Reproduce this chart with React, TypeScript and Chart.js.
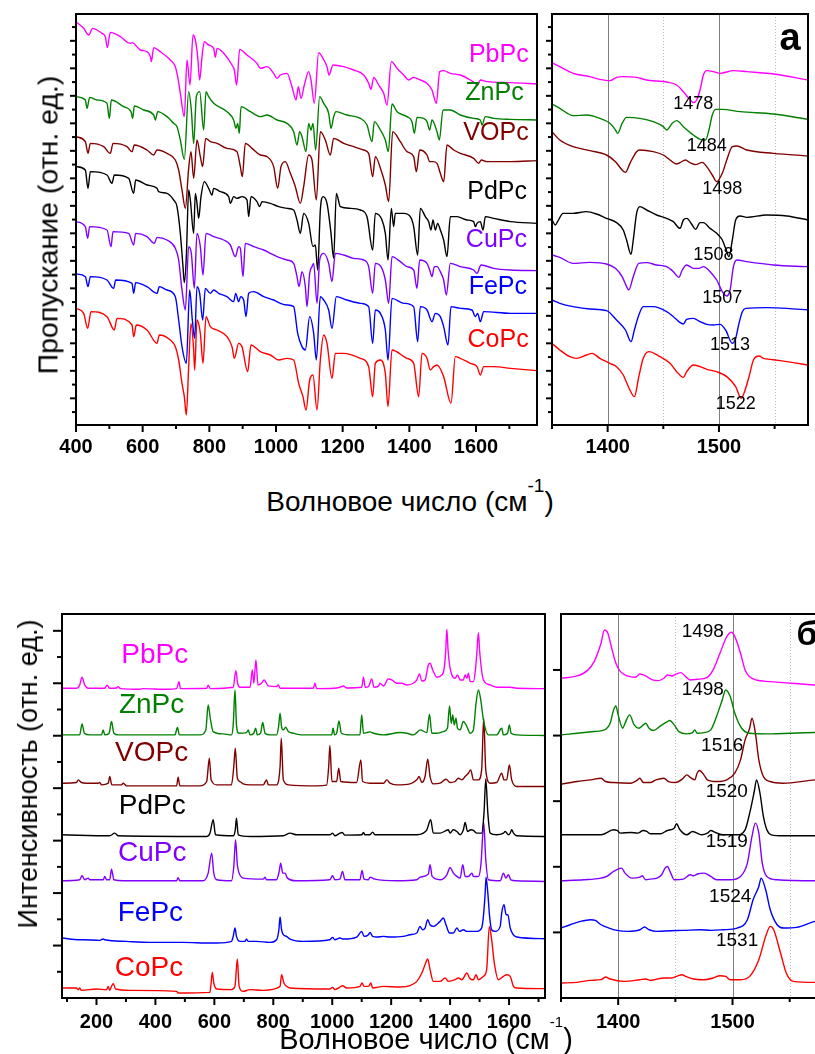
import React, { useEffect, useRef } from "react";
import { Chart, registerables } from "chart.js";

Chart.register(...registerables);

const FONT = "'Liberation Sans', Arial, Helvetica, sans-serif";

const SERIES = ["PbPc", "ZnPc", "VOPc", "PdPc", "CuPc", "FePc", "CoPc"];
const COLORS = ["#ff00ff", "#008000", "#800000", "#000000", "#8000ff", "#0000ff", "#ff0000"];

// tick labels
const irTicks = [400, 600, 800, 1000, 1200, 1400, 1600];
const irZoomTicks = [1400, 1500];
const ramanTicks = [200, 400, 600, 800, 1000, 1200, 1400, 1600];
const ramanZoomTicks = [1400, 1500];

// peak annotations (wavenumbers, cm-1)
const irZoomPeaks = ["1478", "1484", "1498", "1508", "1507", "1513", "1522"];
const ramanZoomPeaks = ["1498", "1498", "1516", "1520", "1519", "1524", "1531"];

// ---------- IR spectra, 400-1780 cm-1 (wavenumber, transmittance a.u.) ----------
const irWidePb = [400,1210, 423,1190, 438,1170, 450,1190, 478,1175, 488,1165, 494,1132, 503,1178, 533,1165, 563,1145, 568,1147, 593,1125, 613,1120, 623,1105, 626,1090, 633,1132, 653,1120, 683,1095, 698,1075, 705,1045, 713,995, 725,925, 733,1095, 742,1020, 751,1170, 758,1155, 765,1105, 771,1035, 778,1105, 785,1150, 798,1140, 813,1130, 818,1103, 823,1130, 843,1115, 868,1080, 875,1065, 882,1020, 891,1127, 913,1110, 943,1085, 953,1070, 973,1075, 993,1055, 1003,1040, 1013,1050, 1033,1055, 1048,1015, 1060,975, 1067,1015, 1075,980, 1085,1020, 1098,1060, 1105,1035, 1115,965, 1128,1117, 1138,1105, 1153,1075, 1159,1050, 1171,1080, 1203,1075, 1233,1065, 1263,1050, 1278,1025, 1285,1007, 1293,1043, 1308,1020, 1323,995, 1333,960, 1346,1090, 1363,1070, 1383,1050, 1398,1035, 1413,1043, 1433,1035, 1453,1025, 1468,1005, 1481,965, 1491,1060, 1503,1063, 1523,1055, 1553,1050, 1583,1035, 1598,1025, 1605,1020, 1613,1035, 1633,1030, 1703,1027, 1783,1023];
const irWideZn = [400,985, 428,975, 433,950, 441,983, 463,975, 493,965, 500,920, 506,975, 543,955, 565,940, 570,920, 575,957, 603,945, 633,930, 638,915, 645,940, 673,925, 693,905, 703,895, 713,855, 725,797, 738,1000, 746,945, 753,845, 761,985, 771,1000, 783,885, 790,1000, 798,985, 813,965, 853,940, 873,915, 880,890, 885,905, 890,875, 895,955, 923,940, 953,925, 973,930, 1003,915, 1033,905, 1053,880, 1063,840, 1071,880, 1078,865, 1090,820, 1098,905, 1105,885, 1111,905, 1119,825, 1131,985, 1143,965, 1158,935, 1165,890, 1173,925, 1180,940, 1213,930, 1253,920, 1273,900, 1288,850, 1295,910, 1313,885, 1328,855, 1337,820, 1348,963, 1363,940, 1393,925, 1408,910, 1415,875, 1423,923, 1443,920, 1453,910, 1461,885, 1468,915, 1483,880, 1490,855, 1501,945, 1523,945, 1553,930, 1593,920, 1613,915, 1618,900, 1628,925, 1653,920, 1703,917, 1783,915];
const irWideVO = [400,865, 428,850, 436,815, 443,845, 483,835, 503,815, 511,845, 553,835, 568,820, 575,840, 613,825, 633,810, 643,825, 673,815, 698,795, 708,765, 718,705, 728,650, 738,770, 745,820, 753,740, 763,855, 773,805, 780,775, 789,860, 803,850, 823,845, 853,830, 883,820, 893,775, 899,745, 908,845, 928,830, 953,810, 973,805, 993,775, 1005,710, 1015,775, 1028,790, 1043,755, 1058,715, 1073,665, 1083,715, 1098,810, 1108,795, 1121,675, 1133,880, 1148,855, 1163,810, 1173,860, 1203,845, 1233,835, 1263,825, 1278,815, 1290,745, 1298,805, 1315,765, 1328,720, 1338,670, 1350,880, 1373,850, 1393,820, 1413,805, 1421,760, 1431,825, 1453,810, 1461,790, 1471,790, 1483,785, 1493,755, 1503,730, 1513,840, 1533,825, 1553,815, 1593,800, 1608,785, 1616,795, 1633,790, 1703,790, 1783,793];
const irWidePd = [400,775, 428,765, 436,710, 443,760, 493,750, 508,725, 515,750, 558,740, 573,695, 579,735, 613,720, 643,710, 648,700, 673,695, 693,675, 703,655, 713,575, 721,475, 725,427, 731,505, 738,705, 743,675, 753,575, 758,695, 763,665, 768,620, 775,685, 785,730, 798,710, 808,690, 813,710, 833,700, 858,685, 863,665, 873,685, 883,680, 898,685, 913,675, 918,625, 925,685, 943,670, 951,655, 958,670, 983,665, 1008,655, 1033,650, 1053,645, 1063,615, 1073,575, 1083,635, 1098,605, 1111,535, 1118,540, 1125,465, 1133,645, 1141,685, 1153,665, 1165,575, 1173,500, 1181,695, 1193,655, 1223,650, 1253,645, 1273,625, 1290,525, 1298,635, 1318,615, 1328,575, 1336,495, 1346,650, 1353,595, 1358,635, 1383,635, 1403,625, 1413,595, 1425,510, 1433,650, 1448,625, 1458,610, 1465,585, 1471,615, 1478,585, 1485,605, 1493,585, 1503,555, 1513,505, 1523,625, 1543,625, 1573,615, 1593,610, 1598,595, 1603,605, 1613,610, 1621,585, 1628,625, 1653,620, 1703,610, 1783,605];
const irWideCu = [400,610, 428,595, 435,560, 441,595, 493,585, 505,535, 511,580, 558,575, 573,540, 579,575, 613,565, 635,545, 643,563, 673,555, 698,530, 708,495, 718,405, 728,345, 738,535, 746,515, 755,410, 763,575, 773,535, 781,450, 790,575, 813,565, 843,555, 863,540, 878,505, 888,535, 893,530, 901,445, 908,545, 933,535, 963,525, 983,515, 1003,505, 1033,495, 1053,485, 1063,445, 1069,415, 1078,460, 1088,415, 1093,355, 1101,455, 1108,475, 1113,485, 1123,365, 1131,495, 1143,515, 1158,485, 1168,430, 1178,515, 1203,510, 1233,500, 1263,495, 1278,475, 1290,395, 1298,485, 1315,475, 1328,435, 1338,365, 1348,505, 1373,490, 1393,475, 1413,465, 1423,410, 1431,495, 1453,485, 1461,465, 1468,445, 1475,475, 1483,475, 1493,460, 1503,435, 1511,390, 1523,485, 1553,475, 1593,465, 1603,455, 1615,480, 1653,470, 1703,465, 1783,463];
const irWideFe = [400,453, 428,445, 436,415, 443,445, 493,435, 513,410, 519,435, 568,425, 573,395, 579,427, 613,415, 643,395, 650,415, 673,405, 698,385, 708,315, 718,235, 731,185, 741,405, 749,315, 756,260, 763,415, 771,395, 780,315, 788,410, 803,395, 813,405, 828,395, 853,385, 873,370, 879,395, 888,370, 894,385, 903,375, 910,325, 918,395, 933,400, 963,385, 993,375, 1013,365, 1033,360, 1053,355, 1065,275, 1078,235, 1088,225, 1101,325, 1113,275, 1121,195, 1133,385, 1143,375, 1158,345, 1168,290, 1181,385, 1213,375, 1253,365, 1278,355, 1290,245, 1298,345, 1313,335, 1328,285, 1336,195, 1348,380, 1383,365, 1413,355, 1425,250, 1433,355, 1453,345, 1468,310, 1478,335, 1493,325, 1503,295, 1516,240, 1525,355, 1553,350, 1588,345, 1598,325, 1605,335, 1613,310, 1623,340, 1703,335, 1783,335];
const irWideCo = [400,350, 423,335, 435,290, 445,340, 493,325, 515,285, 523,320, 568,300, 573,265, 581,300, 613,285, 643,245, 650,270, 683,255, 698,235, 708,195, 718,125, 725,85, 731,30, 738,175, 745,305, 753,225, 756,165, 763,315, 773,275, 781,185, 790,325, 803,295, 823,285, 853,265, 868,235, 875,200, 888,245, 898,235, 915,160, 925,240, 953,220, 983,210, 1008,195, 1033,200, 1053,195, 1068,125, 1081,85, 1090,45, 1101,135, 1111,150, 1123,45, 1133,195, 1143,270, 1153,245, 1168,140, 1178,215, 1203,215, 1253,200, 1278,175, 1290,85, 1298,185, 1313,195, 1328,155, 1336,55, 1348,225, 1393,200, 1413,185, 1428,85, 1438,215, 1453,200, 1463,165, 1473,175, 1483,180, 1503,145, 1525,65, 1538,205, 1553,200, 1583,185, 1603,175, 1613,150, 1623,175, 1653,175, 1703,170, 1783,163];

// ---------- IR spectra, 1350-1580 cm-1 ----------
const irZoomPb = [1350,1087, 1357,1075, 1369,1055, 1384,1045, 1393,1037, 1402,1033, 1408,1043, 1414,1045, 1426,1043, 1435,1035, 1444,1032, 1453,1029, 1462,1020, 1468,1000, 1473,980, 1477,967, 1480,975, 1483,1005, 1486,1050, 1489,1063, 1495,1060, 1501,1055, 1513,1063, 1525,1060, 1549,1053, 1580,1035];
const irZoomZn = [1350,963, 1357,950, 1369,928, 1381,930, 1393,920, 1402,905, 1407,885, 1409,875, 1413,905, 1417,923, 1429,920, 1441,910, 1450,895, 1453,885, 1458,905, 1462,913, 1468,895, 1477,870, 1483,857, 1488,855, 1491,885, 1494,930, 1497,947, 1503,947, 1519,940, 1549,933, 1580,917];
const irZoomVO = [1350,880, 1357,855, 1369,835, 1384,823, 1399,810, 1407,790, 1413,765, 1416,758, 1420,785, 1426,820, 1429,825, 1441,820, 1450,810, 1456,795, 1462,783, 1465,787, 1470,795, 1474,787, 1479,781, 1485,788, 1489,775, 1494,750, 1498,730, 1503,755, 1507,795, 1512,835, 1516,837, 1525,825, 1549,815, 1580,807];
const irZoomPd = [1350,615, 1353,600, 1355,610, 1360,635, 1369,635, 1381,640, 1390,633, 1399,620, 1408,607, 1414,585, 1417,555, 1421,512, 1423,555, 1426,635, 1429,655, 1435,645, 1444,630, 1453,620, 1459,610, 1465,590, 1468,615, 1471,620, 1476,600, 1479,587, 1483,607, 1486,607, 1492,590, 1498,575, 1503,555, 1506,530, 1509,505, 1512,555, 1515,615, 1519,627, 1525,623, 1543,630, 1561,627, 1580,615];
const irZoomCu = [1350,510, 1357,503, 1369,485, 1384,488, 1399,483, 1407,470, 1413,445, 1417,415, 1419,405, 1423,445, 1428,485, 1435,487, 1444,480, 1453,475, 1459,460, 1464,443, 1467,465, 1471,480, 1477,470, 1482,470, 1486,475, 1492,460, 1498,435, 1503,400, 1507,387, 1510,405, 1513,475, 1516,495, 1525,490, 1549,480, 1580,475];
const irZoomFe = [1350,375, 1357,365, 1369,355, 1384,348, 1399,343, 1408,315, 1416,285, 1421,250, 1424,285, 1428,330, 1432,355, 1441,355, 1453,340, 1459,325, 1464,310, 1468,303, 1471,317, 1477,320, 1483,310, 1489,302, 1495,300, 1501,302, 1506,285, 1512,245, 1515,260, 1518,305, 1521,340, 1524,350, 1543,352, 1561,350, 1580,345];
const irZoomCo = [1350,245, 1357,225, 1366,205, 1372,200, 1381,210, 1386,215, 1393,200, 1402,185, 1408,175, 1414,150, 1420,105, 1424,85, 1428,145, 1432,200, 1437,220, 1447,205, 1456,185, 1462,160, 1468,143, 1471,160, 1477,180, 1483,175, 1489,167, 1498,160, 1507,145, 1515,115, 1520,80, 1523,100, 1527,145, 1531,195, 1536,207, 1540,200, 1546,197, 1555,193, 1567,187, 1580,180];

// ---------- Raman spectra, 83-1722 cm-1 (wavenumber, intensity a.u.) ----------
const ramanPb = [83,930, 132,930, 143,940, 151,963, 160,940, 172,930, 228,930, 236,939, 245,930, 268,931, 274,935, 281,929, 347,927, 358,929, 438,927, 472,929, 480,950, 485,929, 574,930, 579,939, 587,929, 664,933, 673,983, 679,945, 687,933, 721,933, 729,985, 734,945, 741,1015, 748,940, 760,945, 769,955, 783,937, 811,935, 817,940, 823,930, 936,930, 941,945, 947,929, 1004,930, 1026,933, 1038,937, 1049,931, 1100,933, 1106,963, 1112,933, 1123,935, 1134,958, 1142,933, 1157,937, 1162,945, 1174,937, 1190,958, 1202,955, 1219,945, 1236,945, 1253,940, 1275,945, 1287,955, 1296,973, 1304,952, 1315,955, 1326,1000, 1332,1005, 1341,985, 1355,963, 1372,970, 1380,990, 1385,1040, 1389,1107, 1393,1045, 1399,995, 1406,970, 1417,960, 1425,970, 1434,955, 1445,955, 1451,970, 1457,960, 1462,975, 1468,950, 1479,950, 1486,985, 1491,1040, 1496,1097, 1500,1045, 1506,990, 1513,955, 1536,940, 1558,933, 1604,933, 1626,930, 1722,929];
const ramanZn = [83,790, 143,790, 151,823, 159,795, 177,790, 217,790, 223,805, 228,790, 243,795, 251,830, 259,795, 274,790, 347,790, 466,790, 475,812, 481,790, 551,790, 571,805, 579,880, 587,835, 596,800, 630,793, 658,790, 664,820, 670,925, 675,820, 683,795, 709,797, 715,805, 721,790, 734,795, 740,810, 746,790, 757,795, 764,827, 772,795, 789,790, 811,790, 818,815, 823,855, 828,815, 834,805, 842,813, 851,800, 868,795, 902,790, 947,790, 998,790, 1003,810, 1008,790, 1015,795, 1023,832, 1031,795, 1060,790, 1094,790, 1100,850, 1106,795, 1117,797, 1128,799, 1140,795, 1174,790, 1230,797, 1253,795, 1275,790, 1287,797, 1298,805, 1321,797, 1330,852, 1338,795, 1355,795, 1377,800, 1391,810, 1398,877, 1404,825, 1409,850, 1414,820, 1420,840, 1425,810, 1434,805, 1445,830, 1457,815, 1468,795, 1479,805, 1488,885, 1496,925, 1504,895, 1513,835, 1530,790, 1558,790, 1575,810, 1581,790, 1595,795, 1601,820, 1607,795, 1626,790, 1722,788];
const ramanVO = [83,645, 132,647, 138,655, 149,647, 166,645, 206,645, 211,647, 217,640, 240,645, 245,665, 252,640, 285,640, 291,645, 302,637, 472,637, 477,663, 483,637, 551,637, 574,650, 583,720, 589,655, 608,640, 658,640, 666,695, 671,750, 678,660, 687,650, 698,643, 721,640, 766,640, 777,655, 783,640, 811,640, 823,695, 827,780, 834,655, 851,640, 947,637, 981,639, 988,695, 992,758, 999,650, 1015,650, 1022,690, 1029,650, 1083,647, 1097,715, 1103,650, 1128,645, 1174,645, 1185,655, 1196,645, 1219,640, 1264,643, 1287,655, 1295,665, 1304,647, 1315,665, 1324,717, 1332,665, 1343,643, 1366,645, 1386,657, 1400,647, 1417,650, 1428,660, 1440,655, 1451,665, 1462,675, 1470,685, 1479,655, 1496,655, 1507,685, 1514,840, 1521,685, 1536,645, 1558,647, 1575,675, 1583,655, 1592,655, 1601,700, 1609,655, 1626,635, 1722,635];
const ramanPd = [83,490, 245,487, 262,495, 274,487, 574,485, 585,495, 596,535, 604,490, 664,487, 671,505, 675,540, 681,490, 721,485, 834,487, 857,495, 879,490, 992,490, 1001,495, 1009,487, 1026,495, 1034,497, 1043,489, 1100,490, 1106,497, 1111,490, 1128,490, 1137,498, 1145,490, 1174,490, 1287,490, 1309,495, 1321,505, 1334,535, 1343,495, 1366,495, 1394,505, 1400,495, 1411,505, 1423,500, 1434,490, 1445,505, 1451,527, 1459,500, 1470,505, 1479,503, 1491,495, 1507,495, 1515,555, 1521,658, 1528,555, 1536,495, 1558,490, 1581,495, 1587,500, 1598,490, 1604,495, 1609,505, 1615,495, 1626,487, 1722,485];
const ramanCu = [83,352, 143,355, 151,367, 160,355, 172,360, 177,355, 223,355, 228,365, 234,355, 245,355, 251,387, 259,355, 291,352, 472,352, 477,361, 483,352, 562,352, 579,375, 591,435, 598,375, 608,355, 658,352, 666,395, 672,475, 678,400, 684,375, 698,360, 766,357, 772,363, 777,355, 811,355, 820,380, 825,405, 832,375, 840,375, 848,360, 879,352, 992,355, 1001,367, 1009,355, 1026,357, 1035,380, 1043,355, 1094,355, 1101,383, 1108,357, 1123,355, 1128,363, 1137,360, 1145,357, 1219,352, 1287,355, 1298,363, 1326,372, 1332,400, 1339,365, 1366,355, 1389,370, 1400,392, 1411,375, 1423,365, 1434,360, 1443,400, 1451,365, 1462,365, 1474,375, 1479,365, 1496,365, 1505,405, 1511,495, 1514,527, 1521,415, 1530,355, 1570,352, 1581,375, 1589,360, 1598,370, 1606,355, 1626,352, 1722,350];
const ramanFe = [83,180, 143,175, 155,175, 211,173, 223,177, 228,175, 302,170, 381,167, 494,167, 585,165, 608,165, 658,170, 664,185, 670,210, 675,185, 687,170, 704,170, 709,177, 715,170, 743,170, 789,167, 811,175, 819,205, 823,243, 828,205, 834,190, 845,185, 857,177, 902,170, 992,175, 1001,182, 1009,175, 1026,180, 1038,177, 1083,183, 1100,200, 1108,185, 1123,190, 1128,197, 1137,185, 1151,183, 1174,185, 1196,183, 1241,185, 1264,190, 1287,195, 1298,215, 1306,205, 1315,210, 1324,235, 1332,220, 1343,215, 1366,230, 1377,240, 1386,220, 1398,195, 1411,195, 1423,210, 1432,200, 1445,205, 1457,200, 1468,200, 1491,200, 1507,210, 1513,245, 1519,315, 1522,363, 1528,315, 1534,245, 1541,205, 1553,200, 1570,215, 1575,255, 1583,280, 1590,250, 1596,250, 1604,210, 1626,183, 1722,178];
const ramanCo = [83,30, 132,30, 138,25, 143,30, 149,23, 200,27, 234,25, 240,35, 245,23, 251,35, 257,43, 265,27, 313,23, 472,20, 477,15, 585,17, 589,45, 593,77, 598,45, 608,27, 658,25, 670,35, 678,117, 684,35, 698,20, 721,25, 766,23, 823,35, 828,70, 836,45, 845,35, 857,30, 992,27, 1001,32, 1009,25, 1026,33, 1035,37, 1049,30, 1094,35, 1101,45, 1108,35, 1123,35, 1131,45, 1137,30, 1174,35, 1230,33, 1264,37, 1287,50, 1304,75, 1315,100, 1324,117, 1332,85, 1343,50, 1366,50, 1383,60, 1394,50, 1417,55, 1428,60, 1440,55, 1457,75, 1466,60, 1474,55, 1479,55, 1488,70, 1496,55, 1513,65, 1524,85, 1533,215, 1541,175, 1550,105, 1564,55, 1581,65, 1592,70, 1604,65, 1615,35, 1626,30, 1722,28];

// ---------- Raman spectra, 1350-1580 cm-1 ----------
const ramanZoomPb = [1350,960, 1364,967, 1373,983, 1379,1010, 1385,1065, 1388,1105, 1391,1095, 1394,1055, 1398,1005, 1402,980, 1408,967, 1415,963, 1419,973, 1424,967, 1430,955, 1435,953, 1440,960, 1443,970, 1447,967, 1451,973, 1455,977, 1459,965, 1463,955, 1469,957, 1478,963, 1483,985, 1489,1035, 1495,1085, 1499,1098, 1502,1085, 1507,1035, 1511,985, 1518,958, 1533,950, 1544,947, 1572,940, 1580,939];
const ramanZoomZn = [1350,790, 1364,795, 1379,800, 1388,805, 1393,825, 1396,865, 1398,877, 1400,850, 1404,810, 1406,825, 1410,850, 1414,820, 1418,810, 1422,820, 1424,825, 1427,810, 1431,803, 1437,817, 1443,830, 1445,833, 1449,820, 1453,800, 1460,793, 1465,797, 1467,805, 1469,795, 1475,797, 1481,805, 1486,845, 1491,895, 1494,925, 1498,905, 1502,855, 1508,810, 1515,795, 1530,793, 1572,797, 1580,797];
const ramanZoomVO = [1350,642, 1364,650, 1376,655, 1385,660, 1389,650, 1396,647, 1411,645, 1417,655, 1419,660, 1422,647, 1428,647, 1433,655, 1440,660, 1444,650, 1450,647, 1456,657, 1460,670, 1464,660, 1467,655, 1469,675, 1471,683, 1475,670, 1478,655, 1486,650, 1495,655, 1502,675, 1507,715, 1511,775, 1515,810, 1517,840, 1520,795, 1523,715, 1527,665, 1533,650, 1544,645, 1572,655, 1580,657];
const ramanZoomPd = [1350,490, 1370,490, 1385,490, 1396,505, 1399,503, 1402,495, 1411,497, 1417,495, 1422,503, 1425,500, 1428,493, 1437,493, 1443,503, 1449,510, 1451,523, 1454,505, 1460,490, 1465,500, 1469,495, 1473,490, 1478,495, 1481,503, 1485,497, 1492,490, 1504,490, 1511,505, 1515,555, 1519,620, 1521,655, 1524,615, 1527,545, 1530,505, 1534,490, 1544,487, 1572,487, 1580,487];
const ramanZoomCu = [1350,352, 1370,355, 1385,360, 1390,365, 1396,380, 1403,390, 1406,375, 1412,360, 1419,363, 1421,367, 1424,355, 1428,357, 1434,360, 1438,370, 1441,390, 1443,395, 1446,375, 1449,355, 1457,357, 1463,370, 1466,367, 1470,373, 1475,375, 1481,365, 1486,355, 1498,355, 1507,365, 1513,405, 1517,485, 1520,525, 1523,495, 1526,405, 1530,365, 1539,355, 1572,352, 1580,352];
const ramanZoomFe = [1350,210, 1358,220, 1367,230, 1376,235, 1380,233, 1385,220, 1392,210, 1399,203, 1408,200, 1419,205, 1423,213, 1427,205, 1434,200, 1446,202, 1457,203, 1472,205, 1481,203, 1492,205, 1504,210, 1513,235, 1518,295, 1523,335, 1525,360, 1529,325, 1533,265, 1539,220, 1545,210, 1556,212, 1572,230, 1580,235];
const ramanZoomCo = [1350,45, 1364,47, 1376,53, 1385,55, 1389,63, 1393,57, 1405,50, 1419,55, 1424,57, 1428,53, 1440,60, 1446,60, 1451,65, 1456,70, 1459,65, 1466,57, 1475,55, 1483,60, 1489,67, 1494,65, 1498,55, 1507,55, 1515,65, 1523,115, 1529,185, 1533,215, 1536,205, 1542,135, 1547,75, 1553,50, 1572,47, 1580,47];

type Lbl = { t: string; x: number; y: number; c: string; s: number; a?: CanvasTextAlign; b?: boolean };
type YT = { start: number; step: number; mStart: number; mStep: number; majLen: number; minLen: number };
type Panel = {
  left: number; top: number; w: number; h: number;
  padTop: number; padRight: number; yW: number; xH: number;
  xMin: number; xMax: number; yMax: number;
  ticks: number[]; labelPad: number; labelSize: number;
  xMinor: number; xMajor: number; xMajLen: number; xMinLen: number;
  yT: YT; solid: number[]; dotted: number[];
  data: number[][]; labels: Lbl[];
};

const toPts = (flat: number[]) => {
  const out: { x: number; y: number }[] = [];
  for (let i = 0; i < flat.length; i += 2) out.push({ x: flat[i], y: flat[i + 1] });
  return out;
};

const irYT: YT = { start: 38.75, step: 41.25, mStart: 80, mStep: 82.5, majLen: 6, minLen: 4 };

const PANELS: Panel[] = [
  {
    left: 0, top: 0, w: 545, h: 470, padTop: 14, padRight: 8, yW: 76, xH: 45,
    xMin: 400, xMax: 1783, yMax: 1233, ticks: irTicks, labelPad: 10, labelSize: 20,
    xMinor: 100, xMajor: 200, xMajLen: 7, xMinLen: 4, yT: irYT, solid: [], dotted: [],
    data: [irWidePb, irWideZn, irWideVO, irWidePd, irWideCu, irWideFe, irWideCo],
    labels: [
      { t: SERIES[0], x: 1758, y: 1110, c: COLORS[0], s: 25, a: "right" },
      { t: SERIES[1], x: 1743, y: 995, c: COLORS[1], s: 25, a: "right" },
      { t: SERIES[2], x: 1758, y: 875, c: COLORS[2], s: 25, a: "right" },
      { t: SERIES[3], x: 1753, y: 700, c: COLORS[3], s: 25, a: "right" },
      { t: SERIES[4], x: 1753, y: 555, c: COLORS[4], s: 25, a: "right" },
      { t: SERIES[5], x: 1753, y: 415, c: COLORS[5], s: 25, a: "right" },
      { t: SERIES[6], x: 1758, y: 255, c: COLORS[6], s: 25, a: "right" },
    ],
  },
  {
    left: 545, top: 0, w: 270, h: 470, padTop: 14, padRight: 7, yW: 7, xH: 45,
    xMin: 1350, xMax: 1580, yMax: 1233, ticks: irZoomTicks, labelPad: 10, labelSize: 20,
    xMinor: 50, xMajor: 100, xMajLen: 7, xMinLen: 4, yT: irYT, solid: [1400, 1500], dotted: [1450, 1550],
    data: [irZoomPb, irZoomZn, irZoomVO, irZoomPd, irZoomCu, irZoomFe, irZoomCo],
    labels: [
      { t: irZoomPeaks[0], x: 1477, y: 963, c: "#000", s: 18 },
      { t: irZoomPeaks[1], x: 1489, y: 837, c: "#000", s: 18 },
      { t: irZoomPeaks[2], x: 1503, y: 708, c: "#000", s: 18 },
      { t: irZoomPeaks[3], x: 1495, y: 510, c: "#000", s: 18 },
      { t: irZoomPeaks[4], x: 1503, y: 382, c: "#000", s: 18 },
      { t: irZoomPeaks[5], x: 1510, y: 240, c: "#000", s: 18 },
      { t: irZoomPeaks[6], x: 1515, y: 63, c: "#000", s: 18 },
      { t: "а", x: 1564, y: 1155, c: "#000", s: 38, b: true },
    ],
  },
  {
    left: 0, top: 590, w: 553, h: 464, padTop: 24, padRight: 8, yW: 62, xH: 56,
    xMin: 83, xMax: 1722, yMax: 1153, ticks: ramanTicks, labelPad: 12, labelSize: 20,
    xMinor: 100, xMajor: 200, xMajLen: 7, xMinLen: 4,
    yT: { start: 78.75, step: 78.75, mStart: 157.5, mStep: 157.5, majLen: 9, minLen: 5 },
    solid: [], dotted: [],
    data: [ramanPb, ramanZn, ramanVO, ramanPd, ramanCu, ramanFe, ramanCo],
    labels: [
      { t: SERIES[0], x: 398, y: 1030, c: COLORS[0], s: 28 },
      { t: SERIES[1], x: 387, y: 880, c: COLORS[1], s: 28 },
      { t: SERIES[2], x: 387, y: 735, c: COLORS[2], s: 28 },
      { t: SERIES[3], x: 389, y: 575, c: COLORS[3], s: 28 },
      { t: SERIES[4], x: 389, y: 435, c: COLORS[4], s: 28 },
      { t: SERIES[5], x: 383, y: 255, c: COLORS[5], s: 28 },
      { t: SERIES[6], x: 378, y: 90, c: COLORS[6], s: 28 },
    ],
  },
  {
    left: 553, top: 590, w: 280, h: 464, padTop: 24, padRight: 9, yW: 8, xH: 56,
    xMin: 1350, xMax: 1580, yMax: 1153, ticks: ramanZoomTicks, labelPad: 12, labelSize: 20,
    xMinor: 50, xMajor: 100, xMajLen: 7, xMinLen: 4,
    yT: { start: 197, step: 197, mStart: 197, mStep: 197, majLen: 8, minLen: 8 },
    solid: [1400, 1500], dotted: [1450, 1550],
    data: [ramanZoomPb, ramanZoomZn, ramanZoomVO, ramanZoomPd, ramanZoomCu, ramanZoomFe, ramanZoomCo],
    labels: [
      { t: ramanZoomPeaks[0], x: 1474, y: 1099, c: "#000", s: 19 },
      { t: ramanZoomPeaks[1], x: 1474, y: 925, c: "#000", s: 19 },
      { t: ramanZoomPeaks[2], x: 1491, y: 758, c: "#000", s: 19 },
      { t: ramanZoomPeaks[3], x: 1495, y: 620, c: "#000", s: 19 },
      { t: ramanZoomPeaks[4], x: 1495, y: 468, c: "#000", s: 19 },
      { t: ramanZoomPeaks[5], x: 1498, y: 305, c: "#000", s: 19 },
      { t: ramanZoomPeaks[6], x: 1504, y: 173, c: "#000", s: 19 },
      { t: "б", x: 1556, y: 1087, c: "#000", s: 34, b: true, a: "left" },
    ],
  },
];

function PanelChart({ p }: { p: Panel }) {
  const ref = useRef<HTMLCanvasElement>(null);
  useEffect(() => {
    const canvas = ref.current;
    if (!canvas) return;
    const line = (ctx: CanvasRenderingContext2D, x1: number, y1: number, x2: number, y2: number) => {
      ctx.beginPath(); ctx.moveTo(x1, y1); ctx.lineTo(x2, y2); ctx.stroke();
    };
    const deco = {
      id: "deco",
      beforeDatasetsDraw(chart: any) {
        const { ctx, chartArea: a, scales } = chart;
        const xs = scales.x;
        ctx.save();
        ctx.lineWidth = 1;
        ctx.strokeStyle = "#7f7f7f";
        for (const v of p.solid) {
          const px = Math.round(xs.getPixelForValue(v)) + 0.5;
          line(ctx, px, a.top, px, a.bottom);
        }
        ctx.strokeStyle = "#b8b8b8";
        ctx.setLineDash([1, 2]);
        for (const v of p.dotted) {
          const px = Math.round(xs.getPixelForValue(v)) + 0.5;
          line(ctx, px, a.top, px, a.bottom);
        }
        ctx.restore();
      },
      afterDatasetsDraw(chart: any) {
        const { ctx, chartArea: a, scales } = chart;
        const xs = scales.x, ys = scales.y;
        ctx.save();
        ctx.strokeStyle = "#000";
        ctx.lineWidth = 2;
        ctx.strokeRect(a.left, a.top, a.right - a.left, a.bottom - a.top);
        for (let v = Math.ceil(p.xMin / p.xMinor) * p.xMinor; v <= p.xMax + 1e-6; v += p.xMinor) {
          const px = xs.getPixelForValue(v);
          const major = Math.abs(v / p.xMajor - Math.round(v / p.xMajor)) < 1e-6;
          line(ctx, px, a.bottom, px, a.bottom + (major ? p.xMajLen : p.xMinLen));
        }
        for (let v = p.yT.start; v <= p.yMax + 1e-6; v += p.yT.step) {
          const py = ys.getPixelForValue(v);
          const r = (v - p.yT.mStart) / p.yT.mStep;
          const major = Math.abs(r - Math.round(r)) < 1e-6;
          line(ctx, a.left - (major ? p.yT.majLen : p.yT.minLen), py, a.left, py);
        }
        for (const l of p.labels) {
          ctx.font = `${l.b ? "bold " : ""}${l.s}px ${FONT}`;
          ctx.fillStyle = l.c;
          ctx.textAlign = l.a || "center";
          ctx.textBaseline = "middle";
          ctx.fillText(l.t, xs.getPixelForValue(l.x), ys.getPixelForValue(l.y));
        }
        ctx.restore();
      },
    };
    const chart = new Chart(canvas, {
      type: "line",
      data: {
        datasets: p.data.map((d, i) => ({
          label: SERIES[i],
          data: toPts(d),
          borderColor: COLORS[i],
          borderWidth: 1.4,
          pointRadius: 0,
          cubicInterpolationMode: "monotone",
          fill: false,
        })),
      },
      options: {
        animation: false,
        responsive: false,
        maintainAspectRatio: false,
        devicePixelRatio: 1,
        events: [],
        parsing: false,
        layout: { padding: { top: p.padTop, right: p.padRight, left: 0, bottom: 0 } },
        plugins: { legend: { display: false }, tooltip: { enabled: false }, title: { display: false } },
        scales: {
          x: {
            type: "linear",
            min: p.xMin,
            max: p.xMax,
            grid: { display: false, drawTicks: false },
            border: { display: false },
            afterBuildTicks: (s: any) => { s.ticks = p.ticks.map((v) => ({ value: v })); },
            afterFit: (s: any) => { s.height = p.xH; },
            ticks: {
              autoSkip: false,
              maxRotation: 0,
              minRotation: 0,
              padding: p.labelPad,
              color: "#000",
              font: { family: FONT, size: p.labelSize, weight: "bold" },
              callback: (v: any) => String(v),
            },
          },
          y: {
            type: "linear",
            min: 0,
            max: p.yMax,
            grid: { display: false, drawTicks: false },
            border: { display: false },
            afterBuildTicks: (s: any) => { s.ticks = []; },
            afterFit: (s: any) => { s.width = p.yW; },
            ticks: { display: false },
          },
        },
      } as any,
      plugins: [deco],
    });
    return () => chart.destroy();
  }, [p]);
  return (
    <canvas
      ref={ref}
      width={p.w}
      height={p.h}
      style={{ position: "absolute", left: p.left, top: p.top, width: p.w, height: p.h }}
    />
  );
}

const titleStyle: React.CSSProperties = {
  position: "absolute",
  fontFamily: FONT,
  color: "#000",
  whiteSpace: "nowrap",
};

export default function App() {
  return (
    <div
      style={{
        position: "absolute",
        left: 0,
        top: 0,
        width: 815,
        height: 1054,
        overflow: "hidden",
        background: "#fff",
      }}
    >
      {PANELS.map((p, i) => (
        <PanelChart key={i} p={p} />
      ))}
      <div style={{ ...titleStyle, left: 410, top: 488, fontSize: 28, lineHeight: "28px", transform: "translateX(-50%)" }}>
        Волновое число (см<span style={{ position: "relative", top: -19, fontSize: 19 }}>-1</span>)
      </div>
      <div style={{ ...titleStyle, left: 426, top: 1025, fontSize: 29, lineHeight: "29px", transform: "translateX(-50%)" }}>
        Волновое число (см<span style={{ position: "relative", top: -22, fontSize: 15 }}>-1</span>)
      </div>
      <div style={{ ...titleStyle, left: 48, top: 225, fontSize: 28.5, lineHeight: "31px", transform: "translate(-50%, -50%) rotate(-90deg)" }}>
        Пропускание (отн. ед.)
      </div>
      <div style={{ ...titleStyle, left: 28, top: 774, fontSize: 27, lineHeight: "30px", transform: "translate(-50%, -50%) rotate(-90deg)" }}>
        Интенсивность (отн. ед.)
      </div>
    </div>
  );
}
